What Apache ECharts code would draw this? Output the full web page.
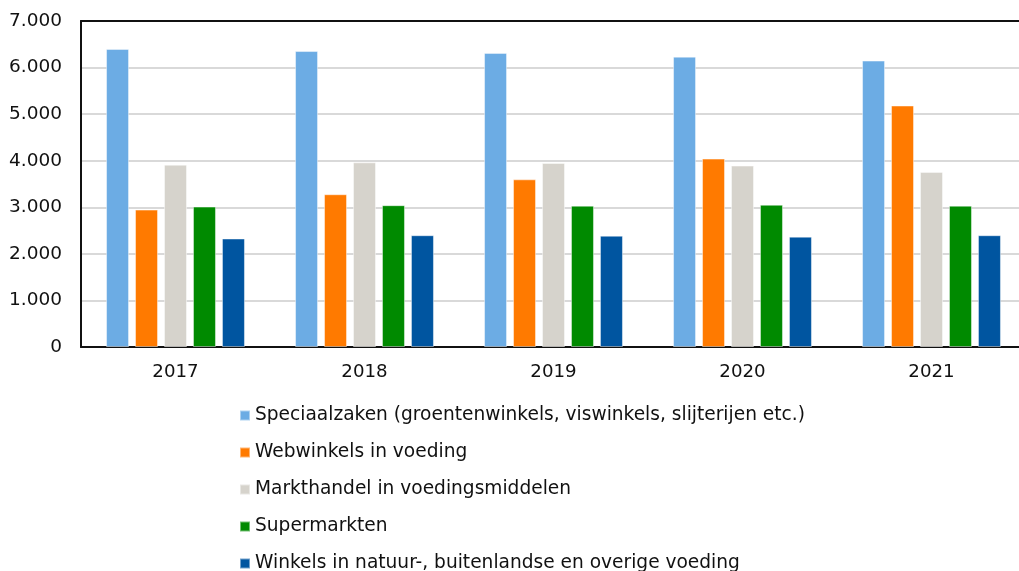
<!DOCTYPE html>
<html>
<head>
<meta charset="utf-8">
<script src="https://cdn.jsdelivr.net/npm/echarts@6/dist/echarts.min.js"></script>
<style>
  html, body { margin: 0; padding: 0; background: #fff; }
  #chart { width: 1019px; height: 571px; }
</style>
</head>
<body>
<div id="chart"></div>
<script>
// categorieën (jaren)
const years = ['2017', '2018', '2019', '2020', '2021'];
// reeksen
const speciaalzaken = [6400, 6355, 6315, 6235, 6150];
const webwinkels = [2950, 3280, 3600, 4045, 5185];
const markthandel = [3915, 3965, 3950, 3895, 3760];
const supermarkten = [3015, 3045, 3035, 3055, 3035];
const natuurwinkels = [2330, 2400, 2390, 2370, 2400];

const names = [
  'Speciaalzaken (groentenwinkels, viswinkels, slijterijen etc.)',
  'Webwinkels in voeding',
  'Markthandel in voedingsmiddelen',
  'Supermarkten',
  'Winkels in natuur-, buitenlandse en overige voeding'
];
const colors = ['#6cace4', '#ff7a00', '#d6d3cc', '#008a00', '#0055a0'];
const values = [speciaalzaken, webwinkels, markthandel, supermarkten, natuurwinkels];

const font = "'DejaVu Sans', Verdana, sans-serif";

let myChart = echarts.init(document.getElementById('chart'));
myChart.setOption({
  animation: false,
  color: colors,
  grid: {
    left: 81,
    width: 945,
    top: 21,
    bottom: 224,
    outerBoundsMode: 'none'
  },
  legend: {
    orient: 'vertical',
    left: 234,
    top: 401,
    height: 300,
    icon: 'rect',
    itemWidth: 10,
    itemHeight: 10,
    itemGap: 18,
    textStyle: { fontFamily: font, fontSize: 18.6, color: '#111', lineHeight: 18, padding: [0, 0, 0, 0] },
    data: names
  },
  xAxis: [{
    type: 'category',
    data: years,
    axisLine: { lineStyle: { color: '#111', width: 2 } },
    axisTick: { show: false },
    axisLabel: { fontFamily: font, fontSize: 18.2, color: '#111', margin: 16 }
  }, {
    // bovenrand van het plotvlak
    type: 'category',
    position: 'top',
    data: years,
    axisLine: { lineStyle: { color: '#111', width: 2 } },
    axisTick: { show: false },
    axisLabel: { show: false }
  }],
  yAxis: {
    type: 'value',
    min: 0,
    max: 7000,
    interval: 1000,
    axisLine: { show: true, lineStyle: { color: '#111', width: 2 } },
    axisTick: { show: false },
    splitLine: { lineStyle: { color: '#d9d9d9', width: 2 } },
    axisLabel: {
      fontFamily: font, fontSize: 18.5, color: '#111', margin: 19,
      formatter: function (v) { return v.toLocaleString('de-DE'); }
    }
  },
  series: names.map(function (n, i) {
    return {
      name: n,
      type: 'bar',
      data: values[i],
      barWidth: 23,
      barGap: '26%',
      itemStyle: { borderColor: 'rgba(255,255,255,0.45)', borderWidth: 1 }
    };
  })
});
</script>
</body>
</html>
